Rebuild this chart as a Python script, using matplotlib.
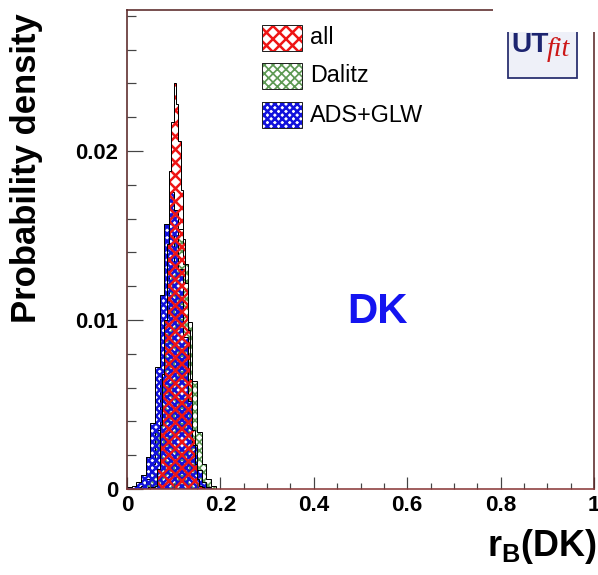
import matplotlib

matplotlib.use("Agg")
import matplotlib.pyplot as plt
import numpy as np
from matplotlib.patches import Rectangle
from matplotlib.ticker import MultipleLocator

W, H, DPI = 598, 575, 156

# posterior densities of r_B(DK)
ALL_EDGES = np.linspace(0.045, 0.165, 25)
ALL_VALUES = [0.0001, 0.0001, 0.0001, 0.0002, 0.0012, 0.0038, 0.0068, 0.0100,
              0.0145, 0.0188, 0.0217, 0.0240, 0.0228, 0.0206, 0.0177, 0.0148,
              0.0122, 0.0094, 0.0065, 0.0035, 0.0015, 0.0006, 0.0002, 0.0001]

DALITZ_EDGES = np.linspace(0.0, 0.20, 21)
DALITZ_VALUES = [0.0, 0.0, 0.0001, 0.0002, 0.0006, 0.0015, 0.0035, 0.0065,
                 0.0100, 0.0130, 0.0150, 0.0154, 0.0133, 0.0099, 0.0064, 0.0034,
                 0.0015, 0.0006, 0.0002, 0.0]

ADSGLW_EDGES = np.linspace(0.0, 0.19, 20)
ADSGLW_VALUES = [0.0001, 0.0002, 0.0004, 0.0008, 0.0019, 0.0039, 0.0072, 0.0115,
                 0.0157, 0.0176, 0.0165, 0.0130, 0.0090, 0.0052, 0.0026, 0.0011,
                 0.0004, 0.0001, 0.0]

LABELS = ["all", "Dalitz", "ADS+GLW"]
COLORS = ["#ee1515", "#5e9a55", "#1212dc"]
HATCHES = ["x" * 4, "x" * 6, "x" * 7]
HATCH_LW = [1.15, 0.8, 1.15]

plt.rcParams["font.family"] = ["Liberation Sans", "DejaVu Sans"]
plt.rcParams["mathtext.fontset"] = "custom"
plt.rcParams["mathtext.bf"] = "Liberation Sans:bold"
plt.rcParams["mathtext.rm"] = "Liberation Sans"


def pt(px):
    return px * 72.0 / DPI


def fx(x):
    return x / W


def fy(y):
    return 1.0 - y / H


def hatched(patch, lw):
    try:
        patch.set_hatch_linewidth(lw)
    except AttributeError:
        pass


fig = plt.figure(figsize=(W / DPI, H / DPI), dpi=DPI)
ax = fig.add_axes([fx(127), fy(489), fx(594) - fx(127), fy(9.5) - fy(489)])

series = [
    (DALITZ_EDGES, DALITZ_VALUES, 1),
    (ADSGLW_EDGES, ADSGLW_VALUES, 2),
    (ALL_EDGES, ALL_VALUES, 0),
]
for edges, values, i in series:
    with plt.rc_context({"hatch.linewidth": HATCH_LW[i]}):
        p = ax.stairs(values, edges, fill=True, hatch=HATCHES[i],
                      facecolor="none", edgecolor=COLORS[i], linewidth=0)
        hatched(p, HATCH_LW[i])
    ax.stairs(values, edges, fill=False, color="black", linewidth=pt(1.0))

ax.set_xlim(0, 1)
ax.set_ylim(0, 0.02837)
ax.xaxis.set_major_locator(MultipleLocator(0.2))
ax.xaxis.set_minor_locator(MultipleLocator(0.05))
ax.yaxis.set_major_locator(MultipleLocator(0.01))
ax.yaxis.set_minor_locator(MultipleLocator(0.002))
ax.xaxis.set_major_formatter(plt.FuncFormatter(lambda v, _: f"{v:g}"))
ax.yaxis.set_major_formatter(plt.FuncFormatter(lambda v, _: f"{v:g}"))

ax.tick_params(axis="x", which="major", direction="in", length=pt(12),
               width=pt(1.2), color="#444444", pad=pt(6), labelsize=pt(22.5))
ax.tick_params(axis="x", which="minor", direction="in", length=pt(6),
               width=pt(1.2), color="#444444")
ax.tick_params(axis="y", which="major", direction="in", length=pt(16),
               width=pt(1.2), color="#444444", pad=pt(9), labelsize=pt(22))
ax.tick_params(axis="y", which="minor", direction="in", length=pt(9),
               width=pt(1.2), color="#444444")
for lab in ax.get_xticklabels() + ax.get_yticklabels():
    lab.set_fontweight("bold")

for side in ["left", "top", "right"]:
    ax.spines[side].set_color("#5a2828")
    ax.spines[side].set_linewidth(pt(1.6))
ax.spines["bottom"].set_color("#8c3a3a")
ax.spines["bottom"].set_linewidth(pt(1.6))

# legend drawn by hand, ROOT style
rows = [25, 63, 102]
for i, label in enumerate(LABELS):
    y0 = rows[i]
    with plt.rc_context({"hatch.linewidth": HATCH_LW[i]}):
        r = Rectangle((fx(262), fy(y0 + 26)), fx(302) - fx(262), fy(y0) - fy(y0 + 26),
                      transform=fig.transFigure, facecolor="none",
                      edgecolor=COLORS[i], hatch=HATCHES[i], linewidth=0)
        hatched(r, HATCH_LW[i])
    fig.add_artist(r)
    fig.add_artist(Rectangle((fx(262), fy(y0 + 26)), fx(302) - fx(262),
                             fy(y0) - fy(y0 + 26), transform=fig.transFigure,
                             facecolor="none", edgecolor="#222222",
                             linewidth=pt(1.0)))
    fig.text(fx(310), fy(y0 + 13), label, fontsize=pt(23.4),
             ha="left", va="center", color="black")

fig.text(fx(378), fy(312), "DK", fontsize=pt(42), fontweight="bold",
         color="#1414f0", ha="center", va="center")

fig.text(fx(27), fy(168), "Probability density", rotation=90, fontsize=pt(34.6),
         fontweight="bold", ha="center", va="center")
fig.text(fx(597), fy(556), r"$\mathbf{r}_{\mathbf{B}}\mathbf{(DK)}$",
         fontsize=pt(36), ha="right", va="baseline")

# UTfit logo in the top right corner, its top cut off by the page
fig.add_artist(Rectangle((fx(508), fy(78)), fx(577) - fx(508), fy(20) - fy(78),
                         transform=fig.transFigure, facecolor="#eef0f8",
                         edgecolor="#2a3070", linewidth=pt(1.8), zorder=5))
fig.text(fx(511), fy(52), "UT", fontsize=pt(28), fontweight="bold",
         color="#1c2470", ha="left", va="baseline", zorder=6)
fig.text(fx(547), fy(56), "fit", fontsize=pt(28), family="Liberation Serif",
         style="italic", color="#cc1818", ha="left", va="baseline", zorder=6)
fig.add_artist(Rectangle((fx(493), fy(32)), fx(598) - fx(493), fy(0) - fy(32),
                         transform=fig.transFigure, facecolor="white",
                         edgecolor="none", zorder=10))

fig.savefig("out.png", dpi=DPI)
